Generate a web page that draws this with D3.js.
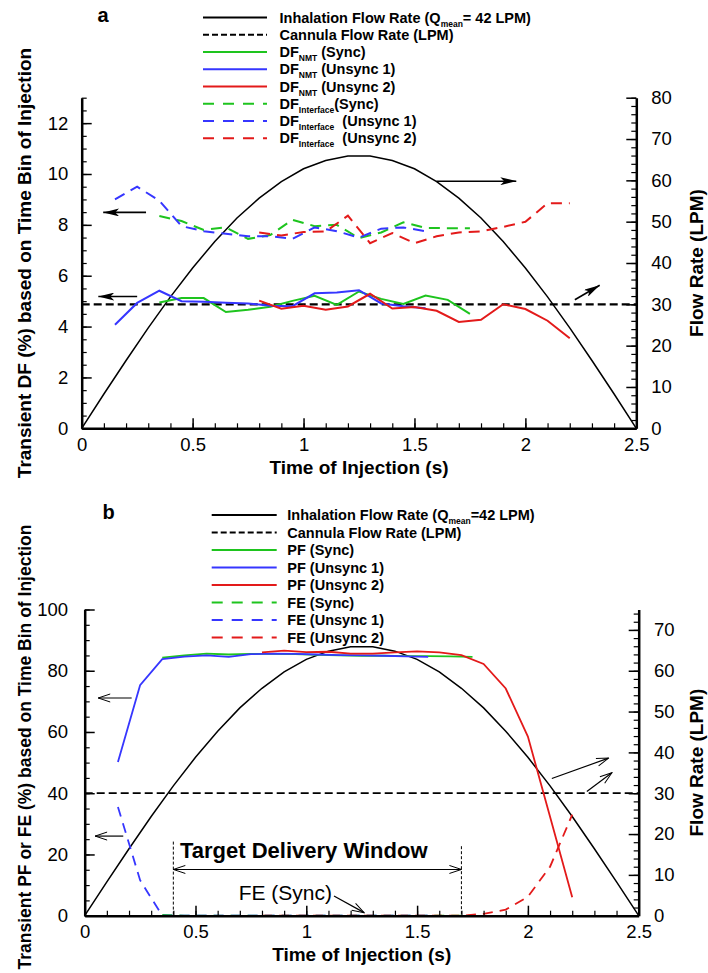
<!DOCTYPE html>
<html>
<head>
<meta charset="utf-8">
<script src="https://cdnjs.cloudflare.com/ajax/libs/d3/7.8.5/d3.min.js"></script>
<style>
  html, body { margin: 0; padding: 0; background: #fff; }
  svg { display: block; font-family: "Liberation Sans", Arial, Helvetica, sans-serif; }
  text { white-space: pre; }
</style>
</head>
<body>
<svg id="chart" width="708" height="973"></svg>
<script>
// ---- data ----
const flowTime   = [0, 0.1, 0.2, 0.3, 0.4, 0.5, 0.6, 0.7, 0.8, 0.9, 1.0, 1.1, 1.2, 1.3, 1.4, 1.5, 1.6, 1.7, 1.8, 1.9, 2.0, 2.1, 2.2, 2.3, 2.4, 2.5];
const inhaleFlow = [0, 8.3, 16.4, 24.3, 31.8, 38.8, 45.2, 50.9, 55.7, 59.7, 62.8, 64.8, 65.9, 65.9, 64.8, 62.8, 59.7, 55.7, 50.9, 45.2, 38.8, 31.8, 24.3, 16.4, 8.3, 0];
const cannulaTime = [0, 2.5];
const cannulaFlow = [30, 30];

const timeSync    = [0.35, 0.45, 0.55, 0.65, 0.75, 0.85, 0.95, 1.05, 1.15, 1.25, 1.35, 1.45, 1.55, 1.65, 1.75];
const timeUnsync1 = [0.15, 0.25, 0.35, 0.45, 0.55, 0.65, 0.75, 0.85, 0.95, 1.05, 1.15, 1.25, 1.35, 1.45, 1.55];
const timeUnsync2 = [0.8, 0.9, 1.0, 1.1, 1.2, 1.3, 1.4, 1.5, 1.6, 1.7, 1.8, 1.9, 2.0, 2.1, 2.2];

// panel a: deposition fractions (%)
const dfNmtSync    = [4.95, 5.12, 5.12, 4.57, 4.66, 4.78, 5.01, 5.21, 4.85, 5.38, 5.09, 4.89, 5.22, 5.05, 4.5];
const dfNmtUnsync1 = [4.07, 4.93, 5.41, 5.0, 4.98, 4.94, 4.91, 4.82, 4.8, 5.31, 5.34, 5.43, 4.91, 4.8, 4.72];
const dfNmtUnsync2 = [5.02, 4.7, 4.82, 4.66, 4.79, 5.29, 4.71, 4.77, 4.62, 4.18, 4.27, 4.88, 4.69, 4.23, 3.54];
const dfIntSync    = [8.35, 8.15, 7.8, 7.9, 7.45, 7.6, 8.2, 7.95, 8.0, 7.48, 7.7, 8.1, 7.88, 7.87, 7.87];
const dfIntUnsync1 = [9.0, 9.5, 8.95, 7.95, 7.75, 7.65, 7.55, 7.55, 7.45, 7.9, 7.75, 7.5, 7.85, 7.9, 7.75];
const dfIntUnsync2 = [7.7, 7.58, 7.72, 7.74, 8.36, 7.28, 7.68, 7.28, 7.55, 7.7, 7.74, 7.92, 8.12, 8.85, 8.85];

// panel b: penetration fraction / filtration efficiency (%)
const pfSync    = [84.3, 85.0, 85.6, 85.3, 85.5, 85.5, 85.4, 85.2, 85.0, 84.9, 84.9, 84.8, 84.8, 84.7, 84.5];
const pfUnsync1 = [50.2, 75.3, 83.8, 84.6, 85.0, 84.5, 85.4, 85.6, 85.5, 85.3, 85.1, 85.0, 84.9, 84.7, 84.5];
const pfUnsync2 = [86.0, 86.6, 86.1, 86.2, 85.6, 85.6, 86.0, 86.3, 86.0, 85.1, 82.2, 74.2, 58.5, 32.3, 6.0];
const feSync    = [0.3, 0, 0, 0, 0, 0, 0, 0, 0, 0, 0, 0, 0, 0, 0];
const feUnsync1 = [35.5, 11.6, 0, 0, 0, 0, 0, 0, 0, 0, 0, 0, 0, 0, 0];
const feUnsync2 = [0, 0, 0, 0, 0, 0, 0, 0, 0, 0, 0.6, 2.0, 6.2, 16.0, 33.0];

// ticks
const xTicks = [0, 0.5, 1, 1.5, 2, 2.5];
const xTickLabels = ['0', '0.5', '1', '1.5', '2', '2.5'];
const dfTicks = [0, 2, 4, 6, 8, 10, 12];
const flowTicksA = [0, 10, 20, 30, 40, 50, 60, 70, 80];
const pfTicks = [0, 20, 40, 60, 80, 100];
const flowTicksB = [0, 10, 20, 30, 40, 50, 60, 70];

// legend labels: [text, subscript, rest]
const legendA = [
  ['Inhalation Flow Rate (Q', 'mean', '= 42 LPM)'],
  ['Cannula Flow Rate (LPM)'],
  ['DF', 'NMT', ' (Sync)'],
  ['DF', 'NMT', ' (Unsync 1)'],
  ['DF', 'NMT', ' (Unsync 2)'],
  ['DF', 'Interface', '(Sync)'],
  ['DF', 'Interface', '  (Unsync 1)'],
  ['DF', 'Interface', '  (Unsync 2)']
];
const legendB = [
  ['Inhalation Flow Rate (Q', 'mean', '=42 LPM)'],
  ['Cannula Flow Rate (LPM)'],
  ['PF (Sync)'], ['PF (Unsync 1)'], ['PF (Unsync 2)'],
  ['FE (Sync)'], ['FE (Unsync 1)'], ['FE (Unsync 2)']
];

// ---- drawing ----
const GREEN = '#1ec41e', BLUE = '#3636ff', RED = '#e31a1a';
const svg = d3.select('#chart');

const defs = svg.append('defs');
defs.append('marker')
    .attr('id', 'headFilled')
    .attr('viewBox', '0 0 16 8')
    .attr('refX', 16).attr('refY', 4)
    .attr('markerWidth', 16).attr('markerHeight', 8)
    .attr('markerUnits', 'userSpaceOnUse')
    .attr('orient', 'auto')
    .append('path').attr('d', 'M0,0 L16,4 L0,8 L4,4 Z').attr('fill', '#000');
defs.append('marker')
    .attr('id', 'headOpen')
    .attr('viewBox', '-1 -1 14 10')
    .attr('refX', 12).attr('refY', 4)
    .attr('markerWidth', 14).attr('markerHeight', 10)
    .attr('markerUnits', 'userSpaceOnUse')
    .attr('orient', 'auto-start-reverse')
    .append('path').attr('d', 'M0,0 L12,4 L0,8').attr('fill', 'none').attr('stroke', '#000').attr('stroke-width', 1);

function drawPanel(p) {
    const g = svg.append('g');
    const x = d3.scaleLinear().domain([0, 2.5]).range([p.left, p.right]);
    const yL = d3.scaleLinear().domain([0, p.leftMax]).range([p.bottom, p.top]);
    const yR = d3.scaleLinear().domain([0, p.rightMax]).range([p.bottom, p.top]);

    // series
    p.series.forEach(s => {
        const ys = s.right ? yR : yL;
        g.append('path')
         .datum(d3.zip(s.t, s.v))
         .attr('d', d3.line().x(d => x(d[0])).y(d => ys(d[1])))
         .attr('fill', 'none')
         .attr('stroke', s.color)
         .attr('stroke-width', s.w)
         .attr('stroke-dasharray', s.dash || null);
    });

    // axes (ticks pointing inward)
    const styleAxis = sel => {
        sel.select('.domain').attr('stroke-width', 2.5);
        sel.selectAll('.tick line').attr('stroke-width', 1.5);
        sel.selectAll('.tick text').attr('font-size', '18.5px').attr('fill', '#000')
           .attr('font-family', '"Liberation Sans", Arial, sans-serif');
    };
    const minor = (sel) => { sel.select('.domain').remove(); sel.selectAll('.tick line').attr('stroke-width', 1.2); };

    g.append('g').attr('transform', `translate(0,${p.bottom})`)
     .call(d3.axisBottom(x).tickValues(d3.range(0, 2.501, 0.1)).tickFormat('').tickSizeInner(-5).tickSizeOuter(0))
     .call(minor);
    g.append('g').attr('transform', `translate(0,${p.bottom})`)
     .call(d3.axisBottom(x).tickValues(xTicks).tickFormat((d, i) => xTickLabels[i])
             .tickSizeInner(-10).tickSizeOuter(0).tickPadding(p.xPad))
     .call(styleAxis);

    g.append('g').attr('transform', `translate(${p.left},0)`)
     .call(d3.axisLeft(yL).tickValues(d3.range(0, p.leftMax + 0.001, p.leftMinor)).tickFormat('').tickSizeInner(-5).tickSizeOuter(0))
     .call(minor);
    g.append('g').attr('transform', `translate(${p.left},0)`)
     .call(d3.axisLeft(yL).tickValues(p.leftTicks).tickFormat(d3.format('d'))
             .tickSizeInner(-10).tickSizeOuter(0).tickPadding(p.leftPad))
     .call(styleAxis);

    g.append('g').attr('transform', `translate(${p.right},0)`)
     .call(d3.axisRight(yR).tickValues(d3.range(0, p.rightMax + 0.001, 2)).tickFormat('').tickSizeInner(-5).tickSizeOuter(0))
     .call(minor);
    g.append('g').attr('transform', `translate(${p.right},0)`)
     .call(d3.axisRight(yR).tickValues(p.rightTicks).tickFormat(d3.format('d'))
             .tickSizeInner(-10).tickSizeOuter(0).tickPadding(p.rightPad))
     .call(styleAxis);

    // axis titles
    const midY = (p.top + p.bottom) / 2;
    g.append('text')
     .attr('transform', `translate(${p.leftTitleX},${p.leftTitleY || midY}) rotate(-90)`)
     .attr('text-anchor', 'middle').attr('dy', '0.35em')
     .attr('font-size', p.leftTitleSize || '19px').attr('font-weight', 'bold')
     .text(p.leftTitle);
    g.append('text')
     .attr('transform', `translate(${p.rightTitleX},${midY}) rotate(-90)`)
     .attr('text-anchor', 'middle').attr('dy', '0.35em')
     .attr('font-size', '19px').attr('font-weight', 'bold')
     .text('Flow Rate (LPM)');
    g.append('text')
     .attr('x', (p.left + p.right) / 2).attr('y', p.xTitleY)
     .attr('text-anchor', 'middle')
     .attr('font-size', '19px').attr('font-weight', 'bold')
     .text('Time of Injection (s)');

    // panel letter
    g.append('text')
     .attr('x', p.letterX).attr('y', p.letterY)
     .attr('text-anchor', 'middle')
     .attr('font-size', '20px').attr('font-weight', 'bold')
     .text(p.letter);

    // legend
    const rows = g.selectAll('.legend-row')
                  .data(p.legend)
                  .enter().append('g')
                  .attr('class', 'legend-row')
                  .attr('transform', (d, i) => `translate(0,${p.legendY0 + i * p.legendStep})`);
    rows.append('line')
        .attr('x1', p.legendX0).attr('x2', p.legendX1)
        .attr('stroke', (d, i) => p.legendStyle[i].color)
        .attr('stroke-width', 2)
        .attr('stroke-dasharray', (d, i) => p.legendStyle[i].dash || null);
    const txt = rows.append('text')
        .attr('x', p.legendTextX).attr('y', 5)
        .attr('font-size', '14.5px').attr('font-weight', 'bold');
    txt.append('tspan').text(d => d[0]);
    txt.filter(d => d.length > 1).append('tspan')
       .attr('font-size', '8.5px').attr('dy', 4).text(d => d[1]);
    txt.filter(d => d.length > 2).append('tspan')
       .attr('dy', -4).text(d => d[2]);

    return { g, x, yL, yR };
}

const legendStyle = [
    { color: '#000' }, { color: '#000', dash: '6,3' },
    { color: GREEN }, { color: BLUE }, { color: RED },
    { color: GREEN, dash: '11,9' }, { color: BLUE, dash: '11,9' }, { color: RED, dash: '11,9' }
];

// ---- panel a ----
const A = drawPanel({
    left: 81.7, right: 636.3, top: 97.7, bottom: 428.3,
    leftMax: 13, rightMax: 80, leftMinor: 0.5,
    leftTicks: dfTicks, rightTicks: flowTicksA,
    leftPad: 13.4, rightPad: 15, xPad: 10,
    leftTitle: 'Transient DF (%) based on Time Bin of Injection',
    leftTitleX: 24, rightTitleX: 696, xTitleY: 474,
    letter: 'a', letterX: 103, letterY: 22,
    legend: legendA, legendStyle: legendStyle,
    legendX0: 203, legendX1: 267, legendTextX: 279.5, legendY0: 17.5, legendStep: 17.26,
    series: [
        { t: flowTime, v: inhaleFlow, right: true, color: '#000', w: 1.5 },
        { t: cannulaTime, v: cannulaFlow, right: true, color: '#000', w: 2.2, dash: '8,4' },
        { t: timeSync, v: dfIntSync, color: GREEN, w: 2, dash: '11,7' },
        { t: timeUnsync1, v: dfIntUnsync1, color: BLUE, w: 2, dash: '11,7' },
        { t: timeUnsync2, v: dfIntUnsync2, color: RED, w: 2, dash: '11,7' },
        { t: timeSync, v: dfNmtSync, color: GREEN, w: 2 },
        { t: timeUnsync1, v: dfNmtUnsync1, color: BLUE, w: 2 },
        { t: timeUnsync2, v: dfNmtUnsync2, color: RED, w: 2 }
    ]
});

// panel a arrows pointing to their axis
const arrowsA = [
    { t0: 0.29, t1: 0.097, v0: 8.49, v1: 8.49, right: false },
    { t0: 0.25, t1: 0.075, v0: 5.18, v1: 5.18, right: false },
    { t0: 1.599, t1: 1.959, v0: 59.8, v1: 59.8, right: true },
    { t0: 2.223, t1: 2.335, v0: 31.1, v1: 34.6, right: true }
];
A.g.selectAll('.arrow')
 .data(arrowsA).enter().append('line')
 .attr('x1', d => A.x(d.t0)).attr('x2', d => A.x(d.t1))
 .attr('y1', d => (d.right ? A.yR : A.yL)(d.v0))
 .attr('y2', d => (d.right ? A.yR : A.yL)(d.v1))
 .attr('stroke', '#000').attr('stroke-width', 1.6)
 .attr('marker-end', 'url(#headFilled)');

// ---- panel b ----
const B = drawPanel({
    left: 84.7, right: 638.7, top: 609.5, bottom: 915.7,
    leftMax: 100, rightMax: 75, leftMinor: 5,
    leftTicks: pfTicks, rightTicks: flowTicksB,
    leftPad: 16.7, rightPad: 15.3, xPad: 9.3,
    leftTitle: 'Transient PF or FE (%) based on Time Bin of Injection',
    leftTitleX: 25, leftTitleY: 747, leftTitleSize: '17.5px',
    rightTitleX: 696, xTitleY: 961.3,
    letter: 'b', letterX: 108.5, letterY: 519,
    legend: legendB, legendStyle: legendStyle,
    legendX0: 211.7, legendX1: 276.7, legendTextX: 287.3, legendY0: 515, legendStep: 17.5,
    series: [
        { t: flowTime, v: inhaleFlow, right: true, color: '#000', w: 1.5 },
        { t: cannulaTime, v: cannulaFlow, right: true, color: '#000', w: 1.7, dash: '8,4' },
        { t: timeSync, v: feSync, color: GREEN, w: 1.8, dash: '10,7' },
        { t: timeUnsync1, v: feUnsync1, color: BLUE, w: 1.8, dash: '10,7' },
        { t: timeUnsync2, v: feUnsync2, color: RED, w: 1.8, dash: '10,7' },
        { t: timeSync, v: pfSync, color: GREEN, w: 1.8 },
        { t: timeUnsync1, v: pfUnsync1, color: BLUE, w: 1.8 },
        { t: timeUnsync2, v: pfUnsync2, color: RED, w: 1.8 }
    ]
});

// panel b annotations
const arrowsB = [
    { t0: 0.212, t1: 0.061, v0: 71.1, v1: 71.1, right: false },
    { t0: 0.174, t1: 0.047, v0: 26.0, v1: 26.0, right: false },
    { t0: 2.108, t1: 2.364, v0: 33.6, v1: 38.6, right: true },
    { t0: 2.266, t1: 2.379, v0: 30.4, v1: 35.0, right: true },
    { t0: 1.125, t1: 1.261, v0: 6.46, v1: 1.0, right: false }
];
B.g.selectAll('.arrow')
 .data(arrowsB).enter().append('line')
 .attr('x1', d => B.x(d.t0)).attr('x2', d => B.x(d.t1))
 .attr('y1', d => (d.right ? B.yR : B.yL)(d.v0))
 .attr('y2', d => (d.right ? B.yR : B.yL)(d.v1))
 .attr('stroke', '#000').attr('stroke-width', 1.2)
 .attr('marker-end', 'url(#headOpen)');

// target delivery window
const windowEdges = [{ t: 0.4, top: 24.2 }, { t: 1.7, top: 22.7 }];
B.g.selectAll('.win-edge')
 .data(windowEdges).enter().append('line')
 .attr('x1', d => B.x(d.t)).attr('x2', d => B.x(d.t))
 .attr('y1', d => B.yL(d.top)).attr('y2', B.yL(0))
 .attr('stroke', '#000').attr('stroke-width', 1).attr('stroke-dasharray', '3,2');
B.g.append('line')
 .attr('x1', B.x(0.4)).attr('x2', B.x(1.7))
 .attr('y1', B.yL(15.1)).attr('y2', B.yL(15.1))
 .attr('stroke', '#000').attr('stroke-width', 1.1)
 .attr('marker-start', 'url(#headOpen)').attr('marker-end', 'url(#headOpen)');
B.g.append('text')
 .attr('x', B.x(0.43)).attr('y', B.yL(18.7))
 .attr('font-size', '22px').attr('font-weight', 'bold')
 .text('Target Delivery Window');
B.g.append('text')
 .attr('x', B.x(0.695)).attr('y', B.yL(5.1))
 .attr('font-size', '21px')
 .text('FE (Sync)');
</script>
</body>
</html>
